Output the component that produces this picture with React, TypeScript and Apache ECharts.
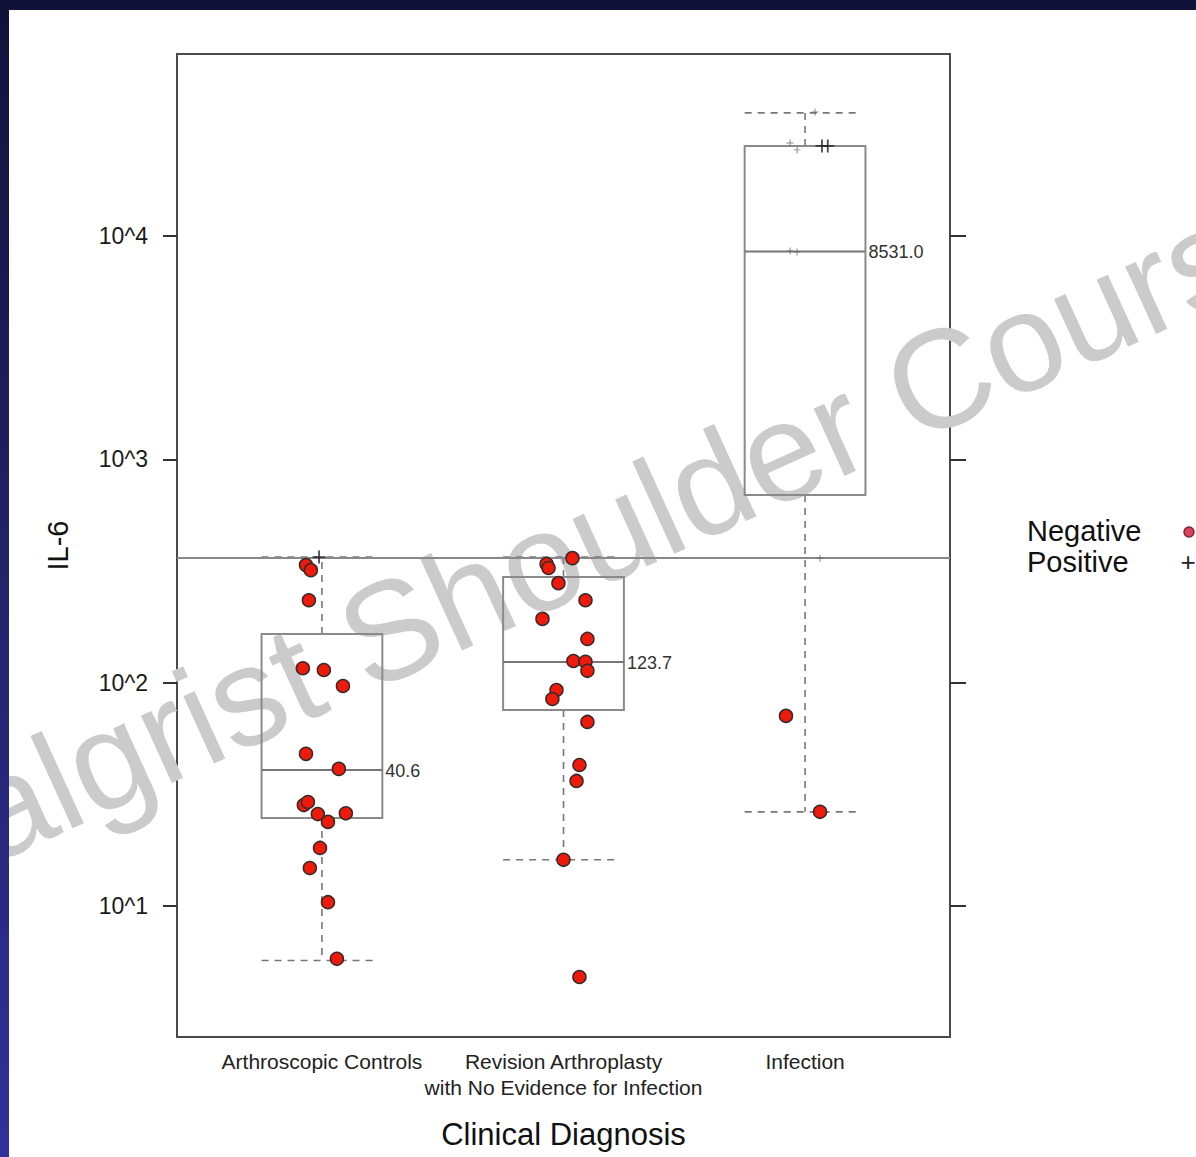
import React, { useEffect, useRef } from "react";
import * as echarts from "echarts";

// ---- data (IL-6 values) ----
const categories = [
  "Arthroscopic Controls",
  "Revision Arthroplasty\nwith No Evidence for Infection",
  "Infection",
];
const yTickValues = [10, 100, 1000, 10000];
const yTickLabels = ["10^1", "10^2", "10^3", "10^4"];

// box stats: [low whisker, Q1, median, Q3, high whisker]
const controlsBox = [5.7, 24.8, 40.6, 165, 365];
const revisionBox = [16.1, 75.5, 123.7, 297, 365];
const infectionBox = [26.4, 692, 8531.0, 25300, 35600];
const medianLabels = ["40.6", "123.7", "8531.0"];

const thresholdValue = 361;

const controlsNegative = [336, 319, 234, 116, 114, 96.6, 48.0, 41.1, 28.3, 29.2, 25.8, 23.8, 26.0, 18.2, 14.8, 10.4, 5.8];
const controlsJitter = [-0.066, -0.046, -0.054, -0.079, 0.008, 0.087, -0.066, 0.07, -0.075, -0.058, -0.017, 0.025, 0.099, -0.008, -0.05, 0.025, 0.062];

const revisionNegative = [361, 340, 326, 279, 234, 193, 157, 125, 124, 113, 92.7, 84.5, 66.7, 42.8, 36.3, 16.1, 4.81];
const revisionJitter = [0.037, -0.07, -0.062, -0.021, 0.091, -0.087, 0.099, 0.041, 0.091, 0.099, -0.029, -0.046, 0.099, 0.066, 0.054, 0.0, 0.066];

const infectionNegative = [71, 26.4];
const infectionJitter = [-0.079, 0.062];

const controlsPositive = [365];
const controlsPositiveJitter = [-0.012];
const infectionPositive = [25300, 25300];
const infectionPositiveJitter = [0.07, 0.094];
const infectionPositiveFaint = [26100, 24300, 35900, 8570, 8470, 361];
const infectionPositiveFaintJitter = [-0.062, -0.033, 0.041, -0.062, -0.033, 0.062];

const FONT = "'Liberation Sans', Arial, Helvetica, sans-serif";
const lg = (v: number) => Math.log10(v);
const PLUS = "path://M4.3,0h1.4v4.3h4.3v1.4h-4.3v4.3h-1.4v-4.3h-4.3v-1.4h4.3z";

function points(center: number, vals: number[], jit: number[]) {
  return vals.map((v, i) => [center + jit[i], lg(v)]);
}

export default function App() {
  const ref = useRef<HTMLDivElement>(null);
  useEffect(() => {
    document.body.style.margin = "0";
    if (!ref.current) return;
    const chart = echarts.init(ref.current, null, { renderer: "svg" });
    const yTicks = yTickValues.map(lg);
    const boxData = [controlsBox, revisionBox, infectionBox].map((b, i) => [i + 1, ...b.map(lg)]);

    const negData = [
      ...points(1, controlsNegative, controlsJitter),
      ...points(2, revisionNegative, revisionJitter),
      ...points(3, infectionNegative, infectionJitter),
    ];
    const posData = [
      ...points(1, controlsPositive, controlsPositiveJitter),
      ...points(3, infectionPositive, infectionPositiveJitter),
    ];
    const posFaintData = points(3, infectionPositiveFaint, infectionPositiveFaintJitter);

    const option: any = {
      animation: false,
      backgroundColor: "#ffffff",
      grid: {
        left: 177,
        right: 246,
        top: 54,
        bottom: 120,
        show: true,
        borderColor: "#4a4a4a",
        borderWidth: 2,
        backgroundColor: "transparent",
      },
      xAxis: {
        type: "value",
        min: 0.4,
        max: 3.6,
        axisLine: { show: false },
        axisTick: { show: false },
        splitLine: { show: false },
        axisLabel: {
          customValues: [1, 2, 3],
          formatter: (v: number) => categories[Math.round(v) - 1] || "",
          fontSize: 21,
          lineHeight: 26,
          color: "#222",
          fontFamily: FONT,
          margin: 11,
        },
        name: "Clinical Diagnosis",
        nameLocation: "middle",
        nameGap: 82,
        nameTextStyle: { fontSize: 31, color: "#111", fontFamily: FONT },
      },
      yAxis: [
        {
          type: "value",
          min: 0.4134,
          max: 4.8149,
          axisLine: { show: false },
          splitLine: { show: false },
          axisTick: {
            show: true,
            length: 14,
            customValues: yTicks,
            lineStyle: { color: "#333", width: 2 },
          },
          axisLabel: {
            customValues: yTicks,
            formatter: (v: number) => {
              const i = yTicks.findIndex((t) => Math.abs(t - v) < 1e-6);
              return i >= 0 ? yTickLabels[i] : "";
            },
            fontSize: 23,
            color: "#1a1a1a",
            fontFamily: FONT,
            margin: 29,
          },
          name: "IL-6",
          nameLocation: "middle",
          nameGap: 105,
          nameTextStyle: { fontSize: 29, color: "#111", fontFamily: FONT },
        },
        {
          type: "value",
          position: "right",
          min: 0.4134,
          max: 4.8149,
          axisLine: { show: false },
          splitLine: { show: false },
          axisTick: {
            show: true,
            length: 16,
            customValues: yTicks,
            lineStyle: { color: "#333", width: 2 },
          },
          axisLabel: { show: false },
        },
      ],
      graphic: [
        {
          type: "text",
          z: 0,
          x: 2,
          y: 884,
          rotation: (24.5 * Math.PI) / 180,
          silent: true,
          style: {
            text: "algrist Shoulder Cours",
            font: `140px ${FONT}`,
            fill: "#cbcbcb",
            verticalAlign: "bottom",
            align: "left",
          },
        },
        {
          type: "rect",
          z: 100,
          shape: { x: 0, y: 0, width: 1196, height: 10 },
          style: { fill: "#11123a" },
        },
        {
          type: "rect",
          z: 100,
          shape: { x: 0, y: 0, width: 9, height: 1157 },
          style: {
            fill: new echarts.graphic.LinearGradient(0, 0, 0, 1, [
              { offset: 0, color: "#11123a" },
              { offset: 0.55, color: "#24246e" },
              { offset: 1, color: "#30309a" },
            ]),
          },
        },
        {
          type: "text",
          z: 100,
          x: 1027,
          y: 531,
          style: { text: "Negative", font: `29px ${FONT}`, fill: "#111", verticalAlign: "middle" },
        },
        {
          type: "text",
          z: 100,
          x: 1027,
          y: 562,
          style: { text: "Positive", font: `29px ${FONT}`, fill: "#111", verticalAlign: "middle" },
        },
        {
          type: "circle",
          z: 100,
          shape: { cx: 1189, cy: 532, r: 5 },
          style: { fill: "#e0405a", stroke: "#7a2a3a", lineWidth: 1.5 },
        },
        {
          type: "text",
          z: 100,
          x: 1188,
          y: 562,
          style: { text: "+", font: `26px ${FONT}`, fill: "#222", align: "center", verticalAlign: "middle" },
        },
      ],
      series: [
        {
          type: "custom",
          name: "box",
          z: 3,
          data: boxData,
          encode: { x: 0, y: [1, 2, 3, 4, 5] },
          renderItem: (params: any, api: any) => {
            const x = api.value(0);
            const lo = api.value(1);
            const q1 = api.value(2);
            const med = api.value(3);
            const q3 = api.value(4);
            const hi = api.value(5);
            const half = 0.25;
            const tl = api.coord([x - half, q3]);
            const br = api.coord([x + half, q1]);
            const cx = api.coord([x, med])[0];
            const yLo = api.coord([x, lo])[1];
            const yHi = api.coord([x, hi])[1];
            const yMed = api.coord([x, med])[1];
            const dash = { stroke: "#777", lineWidth: 1.6, lineDash: [7, 6] };
            const boxStyle = { stroke: "#8a8a8a", lineWidth: 2, fill: "none" };
            return {
              type: "group",
              children: [
                { type: "line", shape: { x1: cx, y1: br[1], x2: cx, y2: yLo }, style: dash },
                { type: "line", shape: { x1: cx, y1: tl[1], x2: cx, y2: yHi }, style: dash },
                { type: "line", shape: { x1: tl[0], y1: yLo, x2: br[0] - 4, y2: yLo }, style: dash },
                { type: "line", shape: { x1: tl[0], y1: yHi, x2: br[0] - 4, y2: yHi }, style: dash },
                {
                  type: "rect",
                  shape: { x: tl[0], y: tl[1], width: br[0] - tl[0], height: br[1] - tl[1] },
                  style: boxStyle,
                },
                { type: "line", shape: { x1: tl[0], y1: yMed, x2: br[0], y2: yMed }, style: { stroke: "#777", lineWidth: 2 } },
                {
                  type: "text",
                  x: br[0] + 3,
                  y: yMed + 1,
                  style: {
                    text: medianLabels[params.dataIndex],
                    fill: "#333",
                    font: `18px ${FONT}`,
                    verticalAlign: "middle",
                    align: "left",
                  },
                },
              ],
            };
          },
        },
        {
          type: "scatter",
          name: "Negative",
          z: 5,
          data: negData,
          symbol: "circle",
          symbolSize: 13,
          itemStyle: { color: "#ee1a0c", borderColor: "#3b2a2a", borderWidth: 1.5, opacity: 1 },
          markLine: {
            silent: true,
            symbol: "none",
            label: { show: false },
            lineStyle: { color: "#888", width: 2, type: "solid" },
            data: [{ yAxis: lg(thresholdValue) }],
          },
        },
        {
          type: "scatter",
          name: "Positive",
          z: 6,
          data: posData,
          symbol: PLUS,
          symbolSize: 13,
          itemStyle: { color: "#222" },
        },
        {
          type: "scatter",
          name: "Positive",
          z: 6,
          data: posFaintData,
          symbol: PLUS,
          symbolSize: 7,
          itemStyle: { color: "#666" },
        },
      ],
    };
    chart.setOption(option);
    return () => chart.dispose();
  }, []);
  return <div ref={ref} style={{ width: 1196, height: 1157 }} />;
}
